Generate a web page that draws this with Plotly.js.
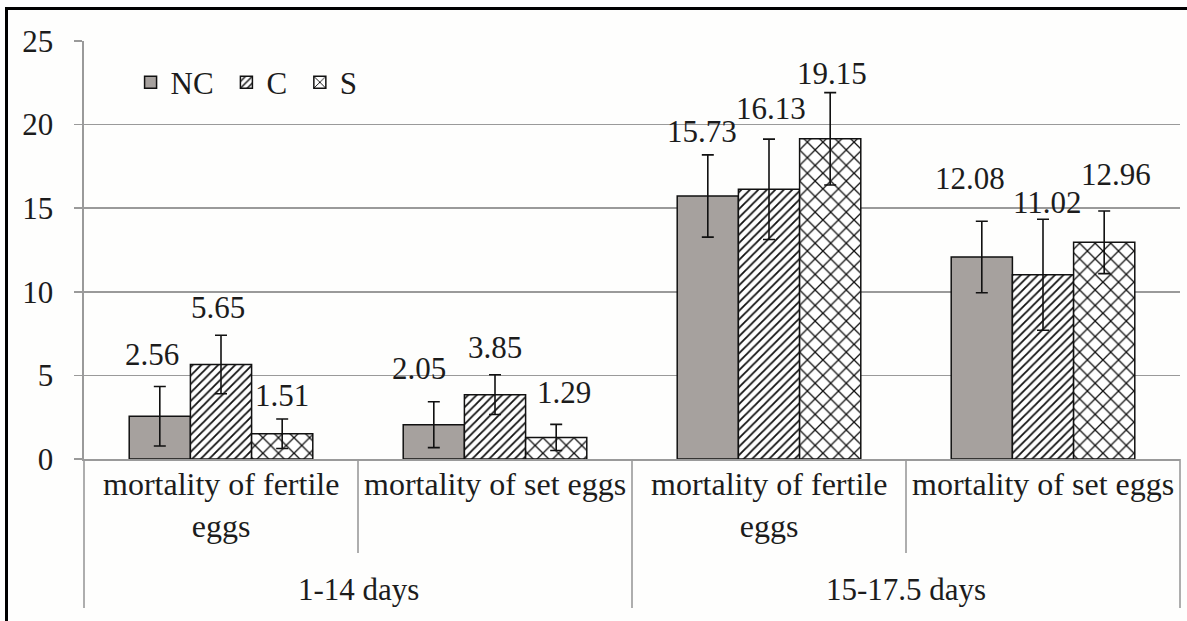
<!DOCTYPE html>
<html>
<head>
<meta charset="utf-8">
<script src="https://cdn.plot.ly/plotly-3.0.1.min.js"></script>
<style>
  html, body { margin: 0; padding: 0; background: #ffffff; }
  #wrap { position: relative; width: 1187px; height: 621px; overflow: hidden; }
  #chart { width: 1187px; height: 621px; }
  #frame { position: absolute; left: 5px; top: 7px; width: 1200px; height: 640px;
           border-left: 3px solid #000; border-top: 3px solid #000; pointer-events: none; }
</style>
</head>
<body>
<div id="wrap">
  <div id="chart"></div>
  <div id="frame"></div>
</div>
<script>
// ---- data ----
const categories = ['mortality of fertile eggs', 'mortality of set eggs', 'mortality of fertile eggs', 'mortality of set eggs'];
const categoryGroups = ['1-14 days', '1-14 days', '15-17.5 days', '15-17.5 days'];
const seriesNames = ['NC', 'C', 'S'];
const ncValues = [2.56, 2.05, 15.73, 12.08];
const cValues  = [5.65, 3.85, 16.13, 11.02];
const sValues  = [1.51, 1.29, 19.15, 12.96];
const ncErrors = [1.78, 1.37, 2.46, 2.14];
const cErrors  = [1.75, 1.19, 3.00, 3.32];
const sErrors  = [0.88, 0.78, 2.76, 1.87];
const yTickValues = [0, 5, 10, 15, 20, 25];

// ---- styling ----
const FONT = '"Liberation Serif", "Times New Roman", serif';
const TXT = '#1c1c1c';
const GRID = '#9a9a9a';
const BARGAP = 0.33;
const W = 1187, H = 621;
const M = { l: 84, r: 7, t: 41, b: 162 };
// manual nudges (px) of the value labels, as in the original figure
const labelNudgeX = [[-8, -15, -6, -12], [-3, 0, 2, 4], [0, 8, 2, 12]];
const labelLift   = [[12, 14, 4, 23], [8, 8, 11, -3], [4, 12, 0, 17]];

const values = [ncValues, cValues, sValues];
const errors = [ncErrors, cErrors, sErrors];
const xIdx = categories.map((_, i) => i);
const xRange = [-0.5, categories.length - 0.5];

const markers = [
  { color: '#a6a19e', line: { color: '#111', width: 1.5 } },
  { color: '#ffffff', line: { color: '#111', width: 1.5 },
    pattern: { shape: '/', size: 6, solidity: 0.3, fgcolor: '#111', bgcolor: '#ffffff', fillmode: 'replace' } },
  { color: '#ffffff', line: { color: '#111', width: 1.5 },
    pattern: { shape: 'x', size: 11, solidity: 0.22, fgcolor: '#111', bgcolor: '#ffffff', fillmode: 'replace' } }
];

const NBSP = '\u00a0';
const traces = seriesNames.map((name, s) => ({
  type: 'bar',
  name: name + NBSP,
  x: xIdx,
  y: values[s],
  marker: markers[s],
  error_y: { type: 'data', array: errors[s], visible: true, color: '#111', thickness: 1.6, width: 6 },
  hoverinfo: 'skip'
}));

// wrap long category labels like the original
function wrap(text, maxChars) {
  const words = text.split(' ');
  const lines = [];
  let cur = '';
  words.forEach(w => {
    const next = cur ? cur + ' ' + w : w;
    if (next.length > maxChars && cur) { lines.push(cur); cur = w; }
    else cur = next;
  });
  if (cur) lines.push(cur);
  return lines.join('<br>');
}

const plotH = H - M.t - M.b;
const pxToPaperY = px => (H - M.b - px) / plotH;
const toDomainX = v => (v - xRange[0]) / (xRange[1] - xRange[0]);

const annotations = [];
// value labels, above each error bar
const slot = (1 - BARGAP) / seriesNames.length;
seriesNames.forEach((name, s) => {
  values[s].forEach((v, j) => {
    annotations.push({
      xref: 'x', yref: 'y',
      x: j + (s - (seriesNames.length - 1) / 2) * slot,
      y: v + errors[s][j],
      text: v.toFixed(2),
      showarrow: false, yanchor: 'bottom', xanchor: 'center',
      xshift: labelNudgeX[s][j], yshift: labelLift[s][j],
      font: { family: FONT, size: 31, color: TXT }
    });
  });
});
// category labels
categories.forEach((c, j) => {
  annotations.push({
    xref: 'x', yref: 'paper', x: j, y: pxToPaperY(464),
    text: wrap(c, 21), showarrow: false, yanchor: 'top', xanchor: 'center',
    font: { family: FONT, size: 32, color: TXT }
  });
});
// group labels
const uniqueGroups = [...new Set(categoryGroups)];
uniqueGroups.forEach(g => {
  const idx = xIdx.filter(i => categoryGroups[i] === g);
  const mid = (idx[0] + idx[idx.length - 1]) / 2;
  annotations.push({
    xref: 'x', yref: 'paper', x: mid, y: pxToPaperY(589),
    text: g, showarrow: false, yanchor: 'middle', xanchor: 'center',
    font: { family: FONT, size: 31, color: TXT }
  });
});

// dividers below the axis
const shapes = [];
for (let k = 0; k <= categories.length; k++) {
  const b = k - 0.5;
  const isOuter = k === 0 || k === categories.length || categoryGroups[k] !== categoryGroups[k - 1];
  shapes.push({
    type: 'line', xref: 'x domain', yref: 'paper',
    x0: toDomainX(b), x1: toDomainX(b),
    y0: 0, y1: pxToPaperY(isOuter ? 608 : 553),
    line: { color: GRID, width: 1.6 }
  });
}

const layout = {
  width: W, height: H,
  margin: M,
  paper_bgcolor: '#fefefd',
  plot_bgcolor: '#fefefd',
  barmode: 'group',
  bargap: BARGAP,
  bargroupgap: 0,
  showlegend: true,
  legend: {
    orientation: 'h', x: 0.0425, y: 0.965, xanchor: 'left', yanchor: 'top',
    font: { family: FONT, size: 31, color: TXT },
    bgcolor: 'rgba(0,0,0,0)', itemwidth: 30, traceorder: 'normal'
  },
  xaxis: {
    range: xRange, showticklabels: false, ticks: '', showgrid: false, zeroline: false,
    showline: true, linecolor: GRID, linewidth: 1.6, fixedrange: true
  },
  yaxis: {
    range: [0, 25], tickvals: yTickValues, ticktext: yTickValues.map(String),
    showgrid: true, gridcolor: GRID, gridwidth: 1.6,
    zeroline: false, showline: true, linecolor: GRID, linewidth: 1.6,
    ticks: 'outside', ticklen: 8, tickcolor: GRID, tickwidth: 1.6,
    ticklabelstandoff: 15,
    tickfont: { family: FONT, size: 31, color: TXT }, fixedrange: true
  },
  annotations: annotations,
  shapes: shapes
};

Plotly.newPlot('chart', traces, layout, { displayModeBar: false, staticPlot: true });
</script>
</body>
</html>
